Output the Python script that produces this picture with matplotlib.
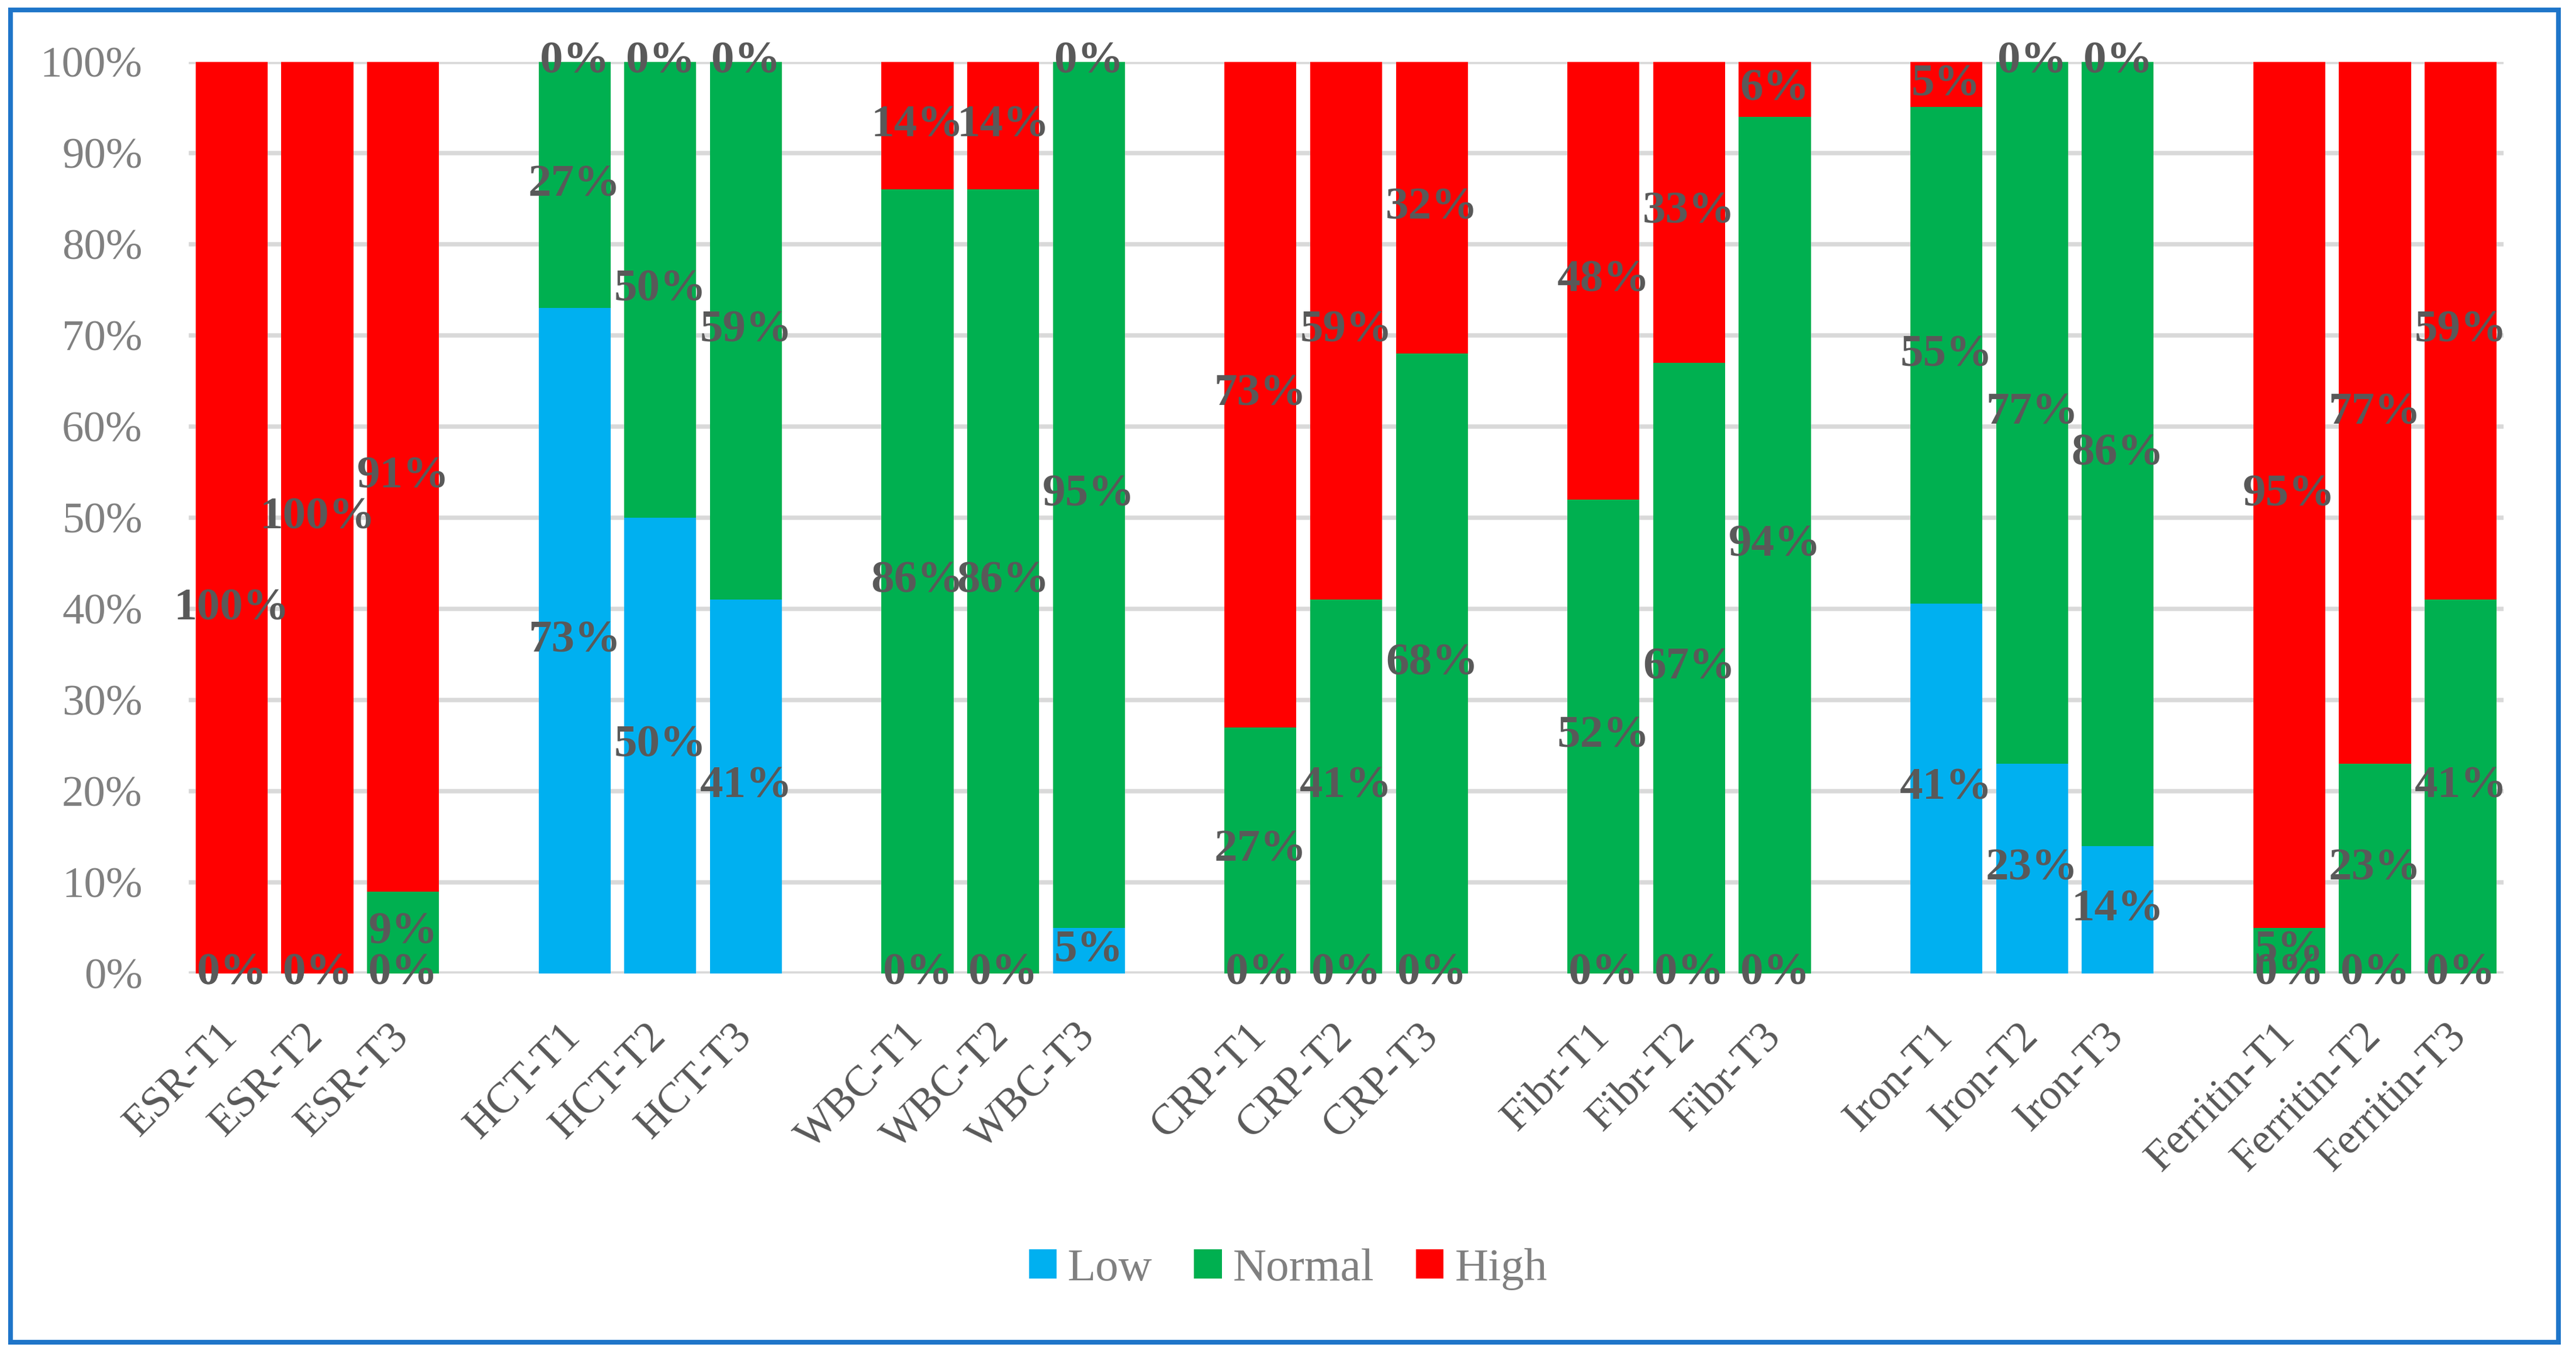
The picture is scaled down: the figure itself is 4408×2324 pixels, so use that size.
import matplotlib.pyplot as plt
import numpy as np
from matplotlib.patches import Rectangle

# stacked shares (%) per test and time point
groups = ["ESR", "HCT", "WBC", "CRP", "Fibr", "Iron", "Ferritin"]
times = ["T1", "T2", "T3"]
series_names = ["Low", "Normal", "High"]
series_colors = ["#00B0F0", "#00B050", "#FF0000"]

low = [0, 0, 0, 73, 50, 41, 0, 0, 5, 0, 0, 0, 0, 0, 0, 41, 23, 14, 0, 0, 0]
normal = [0, 0, 9, 27, 50, 59, 86, 86, 95, 27, 41, 68, 52, 67, 94, 55, 77, 86, 5, 23, 41]
high = [100, 100, 91, 0, 0, 0, 14, 14, 0, 73, 59, 32, 48, 33, 6, 5, 0, 0, 95, 77, 59]

plt.rcParams["font.family"] = ["Liberation Serif", "DejaVu Serif"]

W, H = 4408, 2324
fig = plt.figure(figsize=(W / 100, H / 100), dpi=100)
ax = fig.add_axes([323 / W, 1 - 1666 / H, (4284 - 323) / W, (1666 - 106) / H])

labels = [f"{g}-{t}" for g in groups for t in times]
xpos = np.array([gi * 4 + ti for gi in range(len(groups)) for ti in range(len(times))])

# the ESR-T1 label was dragged down in the original so it doesn't hit ESR-T2's
label_nudge = {("High", 0): -10}

values = np.array([low, normal, high], dtype=float)
shares = values / values.sum(axis=0) * 100
bottoms = np.zeros(len(labels))
for name, color, raw, share in zip(series_names, series_colors, values, shares):
    ax.bar(xpos, share, bottom=bottoms, width=0.84, color=color, label=name, zorder=2)
    for i, (x, b, s, v) in enumerate(zip(xpos, bottoms, share, raw)):
        y = b + s / 2 + label_nudge.get((name, i), 0)
        ax.text(x, y, f"{v:.0f}%", ha="center", va="center", fontsize=57,
                fontweight="bold", color="#595959", zorder=4)
    bottoms = bottoms + share

ax.set_xlim(-0.5, xpos.max() + 0.5)
ax.set_ylim(0, 100)
ax.set_yticks(np.arange(0, 101, 10))
ax.set_yticklabels([f"{t}%" for t in range(0, 101, 10)])
ax.yaxis.grid(True, color="#D9D9D9", linewidth=5.4, zorder=0)
ax.set_axisbelow(True)
for s in ax.spines.values():
    s.set_visible(False)

ax.set_xticks(xpos)
ax.set_xticklabels(labels, rotation=45, ha="right", va="center", rotation_mode="anchor")
ax.tick_params(axis="x", length=0, pad=70, labelsize=53, labelcolor="#595959")
ax.tick_params(axis="y", length=0, pad=57, labelsize=54, labelcolor="#808080")

leg = fig.legend(loc="center", bbox_to_anchor=(0.5, 1 - 2172 / H), ncol=3, frameon=False,
                 fontsize=57, handlelength=0.6, handleheight=0.58, handletextpad=0.24,
                 columnspacing=0.9)
for t in leg.get_texts():
    t.set_color("#808080")

fig.patches.append(Rectangle((18 / W, 1 - 2297 / H), (4378 - 18) / W, (2297 - 17) / H,
                             transform=fig.transFigure, fill=False, edgecolor="#1F75C9",
                             linewidth=5.8, zorder=10))

fig.savefig("out.png", dpi=100, facecolor="white")
